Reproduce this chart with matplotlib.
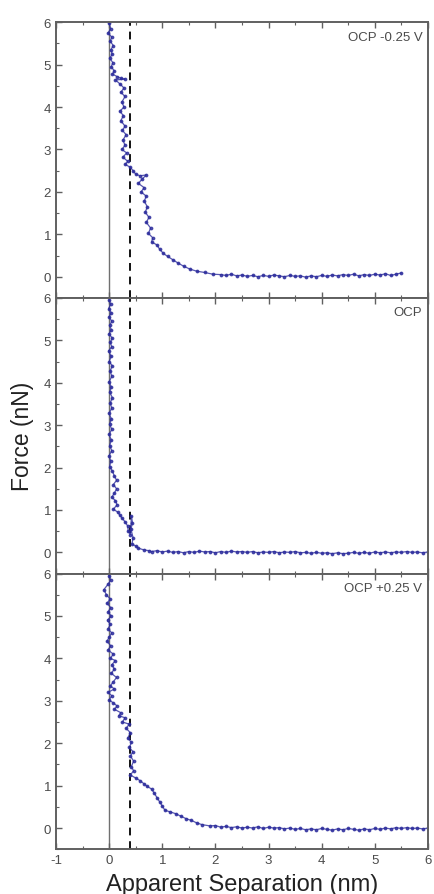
import matplotlib.pyplot as plt
import numpy as np
from matplotlib.ticker import MultipleLocator

# (separation nm, force nN), one list per panel
curve_neg = [
    (0.00, 5.98), (0.03, 5.85), (-0.02, 5.75), (0.05, 5.65), (0.02, 5.55), (0.08, 5.45),
    (0.03, 5.35), (0.06, 5.25), (0.01, 5.15), (0.07, 5.05), (0.04, 4.95), (0.10, 4.85),
    (0.06, 4.78), (0.15, 4.72), (0.22, 4.68), (0.30, 4.66), (0.12, 4.64), (0.20, 4.55),
    (0.28, 4.45), (0.22, 4.35), (0.30, 4.25), (0.24, 4.12), (0.28, 4.00), (0.20, 3.90),
    (0.27, 3.80), (0.22, 3.68), (0.30, 3.55), (0.25, 3.45), (0.32, 3.35), (0.26, 3.22),
    (0.30, 3.10), (0.24, 3.00), (0.33, 2.92), (0.26, 2.82), (0.35, 2.72), (0.30, 2.65),
    (0.40, 2.58), (0.45, 2.50), (0.50, 2.42), (0.58, 2.38), (0.70, 2.40), (0.62, 2.30),
    (0.55, 2.20), (0.66, 2.10), (0.60, 2.00), (0.70, 1.90), (0.66, 1.78), (0.72, 1.65),
    (0.68, 1.52), (0.75, 1.40), (0.70, 1.28), (0.78, 1.15), (0.74, 1.02), (0.82, 0.92),
    (0.80, 0.82), (0.90, 0.75), (0.95, 0.65), (1.02, 0.55), (1.10, 0.48), (1.20, 0.40),
    (1.30, 0.32), (1.40, 0.25), (1.52, 0.18), (1.65, 0.13), (1.80, 0.10), (1.95, 0.06),
    (2.1, 0.05), (2.2, 0.03), (2.3, 0.06), (2.4, 0.02), (2.5, 0.04), (2.6, 0.01),
    (2.7, 0.03), (2.8, 0.00), (2.9, 0.03), (3.0, 0.01), (3.1, 0.04), (3.2, 0.02),
    (3.3, 0.00), (3.4, 0.03), (3.5, 0.01), (3.6, 0.02), (3.7, -0.01), (3.8, 0.02),
    (3.9, 0.00), (4.0, 0.03), (4.1, 0.01), (4.2, 0.04), (4.3, 0.02), (4.4, 0.05),
    (4.5, 0.03), (4.6, 0.06), (4.7, 0.02), (4.8, 0.05), (4.9, 0.03), (5.0, 0.06),
    (5.1, 0.04), (5.2, 0.07), (5.3, 0.03), (5.4, 0.06), (5.5, 0.09),
]

curve_ocp = [
    (0.00, 5.95), (0.03, 5.85), (-0.01, 5.75), (0.04, 5.65), (0.00, 5.55), (0.05, 5.45),
    (0.01, 5.35), (0.04, 5.25), (0.00, 5.15), (0.06, 5.05), (0.02, 4.95), (0.05, 4.85),
    (-0.01, 4.75), (0.04, 4.62), (0.00, 4.50), (0.06, 4.40), (0.02, 4.28), (0.05, 4.15),
    (0.00, 4.02), (0.04, 3.90), (0.01, 3.78), (0.06, 3.65), (0.02, 3.52), (0.05, 3.40),
    (0.00, 3.28), (0.04, 3.15), (0.01, 3.02), (0.05, 2.90), (0.00, 2.78), (0.04, 2.65),
    (0.01, 2.52), (0.05, 2.40), (0.00, 2.28), (0.03, 2.15), (0.01, 2.02), (0.06, 1.92),
    (0.10, 1.80), (0.14, 1.70), (0.08, 1.60), (0.14, 1.50), (0.10, 1.40), (0.05, 1.30),
    (0.12, 1.22), (0.15, 1.12), (0.08, 1.02), (0.16, 0.95), (0.20, 0.88), (0.25, 0.80),
    (0.30, 0.72), (0.35, 0.62), (0.36, 0.50), (0.40, 0.42), (0.42, 0.85), (0.44, 0.70),
    (0.41, 0.55), (0.45, 0.35), (0.43, 0.20), (0.50, 0.15), (0.55, 0.10), (0.65, 0.06),
    (0.75, 0.04), (0.8, 0.02), (0.9, 0.04), (1.0, 0.01), (1.1, 0.03), (1.2, 0.00),
    (1.3, 0.02), (1.4, -0.01), (1.5, 0.02), (1.6, 0.00), (1.7, 0.03), (1.8, 0.01),
    (1.9, 0.02), (2.0, -0.01), (2.1, 0.02), (2.2, 0.00), (2.3, 0.03), (2.4, 0.01),
    (2.5, 0.02), (2.6, 0.00), (2.7, 0.02), (2.8, -0.01), (2.9, 0.01), (3.0, 0.00),
    (3.1, 0.02), (3.2, -0.01), (3.3, 0.01), (3.4, 0.00), (3.5, 0.02), (3.6, -0.01),
    (3.7, 0.00), (3.8, -0.02), (3.9, 0.00), (4.0, -0.02), (4.1, -0.01), (4.2, -0.03),
    (4.3, -0.01), (4.4, -0.03), (4.5, -0.02), (4.6, 0.00), (4.7, -0.02), (4.8, 0.00),
    (4.9, -0.02), (5.0, 0.01), (5.1, -0.01), (5.2, 0.01), (5.3, -0.01), (5.4, 0.01),
    (5.5, 0.00), (5.6, 0.02), (5.7, 0.00), (5.8, 0.01), (5.9, -0.01), (6.0, 0.01),
]

curve_pos = [
    (0.00, 5.95), (0.03, 5.85), (-0.02, 5.75), (-0.10, 5.62), (-0.05, 5.50), (0.02, 5.40),
    (-0.04, 5.30), (0.03, 5.20), (-0.02, 5.10), (0.04, 5.00), (-0.03, 4.90), (0.02, 4.80),
    (-0.02, 4.70), (0.05, 4.60), (0.00, 4.50), (-0.04, 4.40), (0.03, 4.30), (-0.02, 4.20),
    (0.08, 4.10), (0.02, 4.00), (0.12, 3.95), (0.05, 3.85), (0.10, 3.75), (0.04, 3.65),
    (0.14, 3.55), (0.08, 3.45), (0.02, 3.35), (0.10, 3.28), (-0.02, 3.20), (0.05, 3.12),
    (0.00, 3.02), (0.08, 2.95), (0.15, 2.88), (0.10, 2.80), (0.22, 2.72), (0.18, 2.65),
    (0.30, 2.60), (0.25, 2.50), (0.38, 2.45), (0.32, 2.35), (0.40, 2.25), (0.35, 2.12),
    (0.42, 2.02), (0.38, 1.90), (0.45, 1.80), (0.40, 1.70), (0.46, 1.58), (0.42, 1.45),
    (0.46, 1.35), (0.40, 1.25), (0.50, 1.18), (0.58, 1.12), (0.65, 1.05), (0.72, 0.98),
    (0.80, 0.92), (0.85, 0.82), (0.90, 0.72), (0.95, 0.62), (1.00, 0.52), (1.05, 0.42),
    (1.15, 0.38), (1.25, 0.34), (1.35, 0.28), (1.45, 0.22), (1.55, 0.18), (1.65, 0.12),
    (1.75, 0.08), (1.90, 0.05), (2.0, 0.06), (2.1, 0.02), (2.2, 0.04), (2.3, 0.01),
    (2.4, 0.03), (2.5, 0.00), (2.6, 0.02), (2.7, 0.00), (2.8, 0.03), (2.9, -0.01),
    (3.0, 0.02), (3.1, 0.00), (3.2, 0.01), (3.3, -0.02), (3.4, 0.00), (3.5, -0.03),
    (3.6, -0.01), (3.7, -0.04), (3.8, -0.02), (3.9, -0.04), (4.0, -0.01), (4.1, -0.03),
    (4.2, -0.05), (4.3, -0.02), (4.4, -0.04), (4.5, -0.01), (4.6, -0.03), (4.7, -0.05),
    (4.8, -0.02), (4.9, -0.04), (5.0, -0.01), (5.1, -0.03), (5.2, 0.00), (5.3, -0.02),
    (5.4, 0.01), (5.5, -0.01), (5.6, 0.01), (5.7, -0.01), (5.8, 0.00), (5.9, -0.02),
    (6.0, 0.00),
]

curves = [curve_neg, curve_ocp, curve_pos]
labels = ['OCP -0.25 V', 'OCP', 'OCP +0.25 V']
contact_x = 0.0
dashed_x = 0.4

plt.rcParams['font.family'] = ['Liberation Sans', 'DejaVu Sans']
plt.rcParams['axes.unicode_minus'] = False
frame_col = '#606060'
text_col = '#4a4a4a'
pt_col = '#2c2c9c'

fig, axs = plt.subplots(3, 1, figsize=(4.34, 8.95), dpi=100, sharex=True,
                        gridspec_kw=dict(hspace=0))
fig.subplots_adjust(left=0.129, right=0.986, top=0.974, bottom=0.050)

for ax, curve, lab in zip(axs, curves, labels):
    xs, ys = np.array(curve).T
    ax.axvline(contact_x, color='#707070', lw=1.0, zorder=1)
    ax.axvline(dashed_x, color='#111111', lw=1.4, ls=(0, (4, 3)), zorder=1)
    ax.plot(xs, ys, color=pt_col, lw=0.9, marker='.', ms=3.5, alpha=0.8, zorder=2)
    ax.set_xlim(-1, 6)
    ax.set_ylim(-0.5, 6)
    ax.xaxis.set_major_locator(MultipleLocator(1))
    ax.xaxis.set_minor_locator(MultipleLocator(0.5))
    ax.yaxis.set_major_locator(MultipleLocator(1))
    ax.yaxis.set_minor_locator(MultipleLocator(0.5))
    ax.tick_params(which='both', direction='in', top=True, bottom=True, left=True,
                   right=False, color=frame_col, labelcolor=text_col, labelsize=9.5)
    ax.tick_params(which='major', length=4, width=1)
    ax.tick_params(which='minor', length=2.5, width=0.8)
    for s in ax.spines.values():
        s.set_color(frame_col)
        s.set_linewidth(1.4)
    ax.text(0.985, 0.97, lab, transform=ax.transAxes, ha='right', va='top',
            fontsize=9.5, color=text_col)

axs[1].set_ylabel('Force (nN)', fontsize=16.5, color='#222222', labelpad=7)
axs[2].set_xlabel('Apparent Separation (nm)', fontsize=17, color='#222222', labelpad=5)

fig.savefig('out.png', dpi=100)
